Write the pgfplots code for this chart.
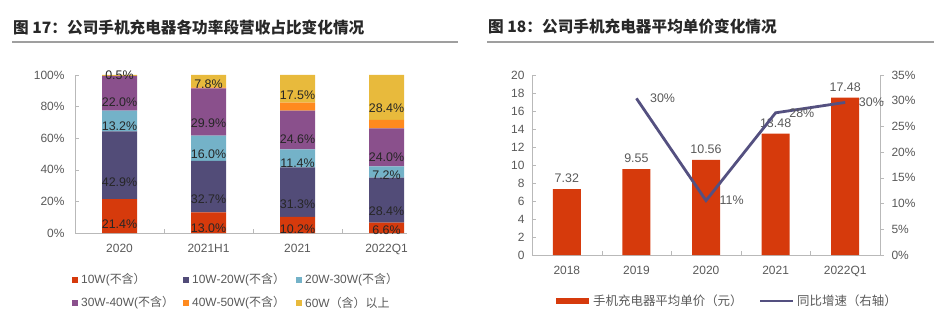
\documentclass[border=0pt]{standalone}
\usepackage{pgfplots}
\pgfplotsset{compat=1.18}
\usepackage{pgfplotstable}
\usepackage{fontspec}
\setmainfont{Liberation Sans}
\newfontfamily\cjk{Noto Sans CJK SC}
\definecolor{cA}{RGB}{214,58,12}
\definecolor{cB}{RGB}{82,76,120}
\definecolor{cC}{RGB}{116,178,200}
\definecolor{cD}{RGB}{138,80,140}
\definecolor{cE}{RGB}{255,138,30}
\definecolor{cF}{RGB}{232,186,60}
\definecolor{txt}{RGB}{89,89,89}
\definecolor{lblc}{RGB}{38,38,38}
\definecolor{axg}{RGB}{185,185,185}
\definecolor{linec}{RGB}{84,80,128}
\definecolor{ttl}{RGB}{40,40,40}

\pgfplotstableread{
x a b c d e f
0 21.4 42.9 13.2 22.0 0.0 0.5
1 13.0 32.7 16.0 29.9 0.6 7.8
2 10.2 31.3 11.4 24.6 5.0 17.5
3 6.6 28.4 7.2 24.0 5.4 28.4
}\sharetbl

\pgfplotstableread{
x price
0 7.32
1 9.55
2 10.56
3 13.48
4 17.48
}\pricetbl

\pgfplotstableread{
x yoy
1 30.46
2 10.58
3 27.65
4 29.67
}\yoytbl

\pgfplotsset{
  /pgf/number format/assume math mode=true,
  seglbl/.style={
    point meta=explicit,
    nodes near coords={\pgfmathprintnumber[fixed,fixed zerofill,precision=1]{\pgfplotspointmeta}\%},
    visualization depends on={\thisrow{#1} \as \rawy},
    every node near coord/.append style={anchor=center, shift={(axis direction cs:0,-\rawy/4)}, font=\fontsize{12.5}{14}\selectfont, text=lblc, inner sep=0pt},
  },
}

\begin{document}
\begin{tikzpicture}[x=1bp,y=1bp]
\useasboundingbox (0,0) rectangle (937,323);

% titles
\node[anchor=west, inner sep=0pt, text=ttl] at (13,296) {\cjk\bfseries\fontsize{15.7}{18}\selectfont 图 17：公司手机充电器各功率段营收占比变化情况};
\draw[gray!75, line width=2bp] (12,281) -- (458,281);
\node[anchor=west, inner sep=0pt, text=ttl] at (488,296) {\cjk\bfseries\fontsize{15.7}{18}\selectfont 图 18：公司手机充电器平均单价变化情况};
\draw[gray!75, line width=2bp] (487,281) -- (934,281);

% left chart
\begin{axis}[
  at={(75bp,90bp)}, anchor=south west,
  scale only axis, width=332bp, height=158bp,
  ybar stacked, bar width=35bp,
  xmin=-0.5, xmax=3.23, ymin=0, ymax=100,
  xtick={0,1,2,3}, xticklabels={2020,2021H1,2021,2022Q1},
  minor xtick={0.5,1.5,2.5},
  ytick={0,20,...,100},
  yticklabel={\pgfmathprintnumber{\tick}\%},
  axis x line*=bottom, axis y line*=left,
  axis line style={axg,-},
  tick align=inside,
  major tick length=4bp, minor tick length=4bp,
  major x tick style={draw=none},
  minor x tick style={axg},
  ytick style={axg},
  ticklabel style={font=\fontsize{12}{14}\selectfont, text=txt},
  xticklabel style={yshift=-8bp},
  yticklabel style={xshift=-7bp},
  clip=false,
]
\addplot[fill=cA,draw=none,seglbl=a] table[x=x,y=a,meta=a]{\sharetbl};
\addplot[fill=cB,draw=none,seglbl=b] table[x=x,y=b,meta=b]{\sharetbl};
\addplot[fill=cC,draw=none,seglbl=c] table[x=x,y=c,meta=c]{\sharetbl};
\addplot[fill=cD,draw=none,seglbl=d] table[x=x,y=d,meta=d]{\sharetbl};
\addplot[fill=cE,draw=none] table[x=x,y=e]{\sharetbl};
\addplot[fill=cF,draw=none,seglbl=f] table[x=x,y=f,meta=f]{\sharetbl};
\end{axis}

% left legend
\begin{scope}[every node/.style={anchor=west, inner sep=0pt, text=txt, font=\fontsize{12}{14}\selectfont}]
\fill[cA] (72,40) rectangle (78,46); \node at (81,43) {10W(\cjk 不含）};
\fill[cB] (183,40) rectangle (189,46); \node at (192,43) {10W-20W(\cjk 不含）};
\fill[cC] (296,40) rectangle (302,46); \node at (305,43) {20W-30W(\cjk 不含）};
\fill[cD] (72,17) rectangle (78,23); \node at (81,20) {30W-40W(\cjk 不含）};
\fill[cE] (183,17) rectangle (189,23); \node at (192,20) {40W-50W(\cjk 不含）};
\fill[cF] (296,17) rectangle (302,23); \node at (305,20) {60W{\cjk（含）以上}};
\end{scope}

% right chart bars
\begin{axis}[
  at={(532bp,68bp)}, anchor=south west,
  scale only axis, width=348bp, height=180bp,
  ybar, bar width=28bp,
  xmin=-0.5, xmax=4.5, ymin=0, ymax=20,
  xtick={0,1,2,3,4}, xticklabels={2018,2019,2020,2021,2022Q1},
  minor xtick={0.5,1.5,2.5,3.5},
  ytick={0,2,...,20},
  axis x line*=bottom, axis y line*=left,
  axis line style={axg,-},
  tick align=inside,
  major tick length=4bp, minor tick length=4bp,
  major x tick style={draw=none},
  minor x tick style={axg},
  ytick style={axg},
  ticklabel style={font=\fontsize{12}{14}\selectfont, text=txt},
  xticklabel style={yshift=-8bp},
  yticklabel style={xshift=-4bp},
  nodes near coords={\pgfmathprintnumber[fixed,fixed zerofill,precision=2]{\pgfplotspointmeta}},
  every node near coord/.append style={font=\fontsize{12.5}{14}\selectfont, text=txt, yshift=3bp},
  clip=false,
]
\addplot[fill=cA,draw=none] table[x=x,y=price]{\pricetbl};
\end{axis}

% right chart line
\begin{axis}[
  at={(532bp,68bp)}, anchor=south west,
  scale only axis, width=348bp, height=180bp,
  xmin=-0.5, xmax=4.5, ymin=0, ymax=35,
  ytick={0,5,...,35},
  yticklabel={\pgfmathprintnumber{\tick}\%},
  axis x line=none, axis y line*=right,
  axis line style={axg,-},
  tick align=outside, major tick length=4bp,
  ytick style={axg},
  ticklabel style={font=\fontsize{12}{14}\selectfont, text=txt},
  yticklabel style={xshift=4bp},
  nodes near coords={\pgfmathprintnumber[fixed,precision=0]{\pgfplotspointmeta}\%},
  every node near coord/.append style={font=\fontsize{12.5}{14}\selectfont, text=txt, anchor=west, xshift=9bp},
  clip=false,
]
\addplot[linec, line width=2.8bp, mark=none] table[x=x,y=yoy]{\yoytbl};
\end{axis}

% right legend
\fill[cA] (556,19) rectangle (589,25);
\node[anchor=west, inner sep=0pt, text=txt] at (593,22) {\cjk\fontsize{12.5}{14}\selectfont 手机充电器平均单价（元）};
\draw[linec, line width=2.8bp] (760,22) -- (793,22);
\node[anchor=west, inner sep=0pt, text=txt] at (797,22) {\cjk\fontsize{12.5}{14}\selectfont 同比增速（右轴）};
\end{tikzpicture}
\end{document}
